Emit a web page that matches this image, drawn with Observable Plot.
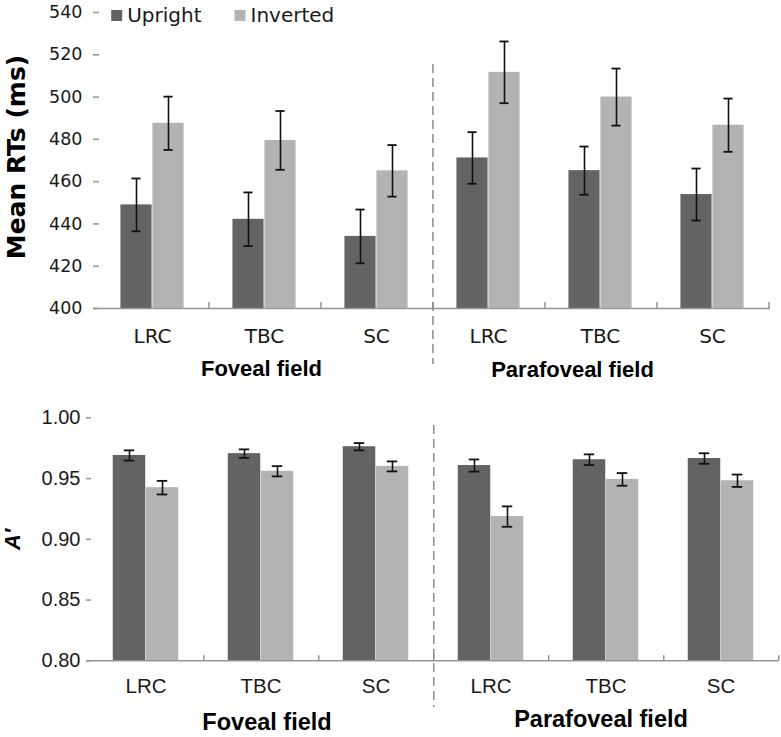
<!DOCTYPE html>
<html><head><meta charset="utf-8">
<script src="https://cdn.jsdelivr.net/npm/d3@7"></script>
<script src="https://cdn.jsdelivr.net/npm/@observablehq/plot@0.6"></script>
<style>
body{margin:0;background:#fff}
#chart{width:781px;height:737px;position:relative;background:#fff}
#chart svg{display:block}
.rtplot g[aria-label="x-axis tick label"]{font-size:20px}
.rtplot g[aria-label="y-axis tick label"]{font-size:17.5px}
.aplot g[aria-label="x-axis tick label"]{font-size:20.5px}
.aplot g[aria-label="y-axis tick label"]{font-size:20px}
</style>
</head><body><div id="chart"></div>
<script>
// ---- data ----
const groups = ["F-LRC","F-TBC","F-SC","P-LRC","P-TBC","P-SC"];
const conditions = ["LRC","TBC","SC","LRC","TBC","SC"];
const fieldLabels = ["Foveal field","Parafoveal field"];
const orientations = ["Upright","Inverted"];
const orientColors = ["#636363","#b3b3b3"];

const rtUpright    = [449.0, 442.2, 434.1, 471.2, 465.2, 453.9];
const rtUprightErr = [12.5, 12.7, 12.7, 12.2, 11.4, 12.3];
const rtInverted   = [487.6, 479.5, 465.1, 511.7, 500.0, 486.7];
const rtInvertedErr= [12.6, 13.9, 12.2, 14.6, 13.5, 12.6];
const rtTicks = [400,420,440,460,480,500,520,540];

const aUpright     = [0.9690, 0.9705, 0.9762, 0.9607, 0.9655, 0.9665];
const aUprightErr  = [0.0042, 0.0035, 0.0030, 0.0050, 0.0044, 0.0043];
const aInverted    = [0.9425, 0.9560, 0.9600, 0.9187, 0.9493, 0.9482];
const aInvertedErr = [0.0056, 0.0042, 0.0041, 0.0084, 0.0052, 0.0051];
const aTicks = [0.80,0.85,0.90,0.95,1.00];

const condOf = new Map(groups.map((g,i)=>[g, conditions[i]]));
function buildRows(up, upErr, inv, invErr){
  return groups.flatMap((g,i)=>[
    {group:g, orient:orientations[0], value:up[i], err:upErr[i]},
    {group:g, orient:orientations[1], value:inv[i], err:invErr[i]}
  ]);
}

const axisGray = "#959595";

function makeChart(c){
  const rows = buildRows(...c.series);
  const step = (c.width - c.ml - c.mr) / groups.length;
  const frameH = c.height - c.mt - c.mb;
  const up = rows.filter(d=>d.orient===orientations[0]);
  const inv = rows.filter(d=>d.orient===orientations[1]);
  const capInset = (step - c.capW)/2;
  const errMarks = (data, dx) => [
    Plot.ruleX(data, {x:"group", y1:d=>d.value-d.err, y2:d=>d.value+d.err, dx, stroke:"#111", strokeWidth:1.6}),
    Plot.tickY(data, {x:"group", y:d=>d.value+d.err, dx, insetLeft:capInset, insetRight:capInset, stroke:"#111", strokeWidth:1.8}),
    Plot.tickY(data, {x:"group", y:d=>d.value-d.err, dx, insetLeft:capInset, insetRight:capInset, stroke:"#111", strokeWidth:1.8})
  ];
  const marks = [
    Plot.barY(up, {x:"group", y1:c.yDomain[0], y2:"value", fill:"orient", insetLeft:step/2-c.bw, insetRight:step/2}),
    Plot.barY(inv, {x:"group", y1:c.yDomain[0], y2:"value", fill:"orient", insetLeft:step/2, insetRight:step/2-c.bw}),
    ...errMarks(up, -c.bw/2),
    ...errMarks(inv, c.bw/2),
    Plot.ruleY([c.yDomain[0]], {stroke:axisGray, strokeWidth:1.5}),
    Plot.ruleX(groups, {x:d=>d, dx:step/2, insetTop:frameH-c.tickLen, stroke:axisGray, strokeWidth:1.5}),
    Plot.ruleX([groups[2]], {x:d=>d, dx:step/2, insetTop:c.dashTop, insetBottom:c.dashBottom, stroke:"#8c8c8c", strokeWidth:1.5, strokeDasharray:"9,5"}),
    Plot.axisY({ticks:c.ticks, tickFormat:c.tickFormat, tickSize:-c.tickLen, tickPadding:c.yPad, line:true, label:null, stroke:axisGray, fill:"#1a1a1a", fontSize:c.tickFont, strokeWidth:1.5}),
    Plot.axisX({tickSize:0, tickPadding:c.xPad, tickFormat:g=>condOf.get(g), label:null, fill:"#1a1a1a", fontSize:c.catFont}),
    Plot.text([fieldLabels[0]], {x:()=>groups[1], frameAnchor:"bottom", lineAnchor:"top", dy:c.titleDy[0], dx:c.titleDx[0], text:d=>d, fontSize:c.titleFont, fontWeight:"bold", fontFamily:"Liberation Sans", fill:"#000"}),
    Plot.text([fieldLabels[1]], {x:()=>groups[4], frameAnchor:"bottom", lineAnchor:"top", dy:c.titleDy[1], dx:c.titleDx[1], text:d=>d, fontSize:c.titleFont, fontWeight:"bold", fontFamily:"Liberation Sans", fill:"#000"}),
    Plot.text([c.yLabel], {frameAnchor:"left", rotate:-90, dx:c.yLabelDx, dy:c.yLabelDy, textAnchor:"middle", lineAnchor:"middle", text:d=>d, fontSize:c.yLabelFont, fontWeight:"bold", fontStyle:c.yLabelStyle, fontFamily:c.yLabelFamily, fill:"#000"})
  ];
  if (c.legend) {
    orientations.forEach((o,i)=>{
      marks.push(Plot.dot([o], {fill:d=>d, symbol:"square", r:6.2, frameAnchor:"top-left", dx:c.legend.sq[i], dy:c.legend.dy}));
      marks.push(Plot.text([o], {text:d=>d, frameAnchor:"top-left", textAnchor:"start", lineAnchor:"middle", dx:c.legend.tx[i], dy:c.legend.dy, fontSize:20, fill:"#1a1a1a"}));
    });
  }
  return Plot.plot({
    width:c.width, height:c.height,
    marginLeft:c.ml, marginRight:c.mr, marginTop:c.mt, marginBottom:c.mb,
    className:c.cls,
    style:{fontFamily:c.font, fontSize:c.tickFont+"px", background:"#fff", overflow:"visible"},
    x:{type:"band", domain:groups, padding:0},
    y:{domain:c.yDomain},
    color:{domain:orientations, range:orientColors},
    marks
  });
}

const rtChart = makeChart({
  cls:"rtplot",
  series:[rtUpright, rtUprightErr, rtInverted, rtInvertedErr],
  width:781, height:390, ml:93, mr:11, mt:12, mb:82,
  yDomain:[rtTicks[0], rtTicks[rtTicks.length-1]], ticks:rtTicks, tickFormat:d=>String(d),
  bw:32, capW:10, tickLen:6, yPad:17, xPad:20,
  dashTop:52, dashBottom:-56,
  tickFont:17.5, catFont:20, titleFont:22, titleDy:[52,53], titleDx:[-3,-28],
  font:"DejaVu Sans",
  yLabel:"Mean RTs (ms)", yLabelDx:-77, yLabelDy:-3.5, yLabelFont:25, yLabelStyle:"normal", yLabelFamily:"DejaVu Sans",
  legend:{sq:[23.2,146.5], tx:[33.7,157], dy:3}
});
const aChart = makeChart({
  cls:"aplot",
  series:[aUpright, aUprightErr, aInverted, aInvertedErr],
  width:781, height:347, ml:86, mr:2, mt:27.3, mb:76.7,
  yDomain:[aTicks[0], aTicks[aTicks.length-1]], ticks:aTicks, tickFormat:d3.format(".2f"),
  bw:33, capW:11, tickLen:5, yPad:11, xPad:18,
  dashTop:7.7, dashBottom:-46.7,
  tickFont:20, catFont:20.5, titleFont:23.5, titleDy:[53,50], titleDx:[6,-5],
  font:"Liberation Sans",
  yLabel:"A\u2032", yLabelDx:-73.5, yLabelDy:0, yLabelFont:22, yLabelStyle:"italic", yLabelFamily:"Liberation Sans",
  legend:null
});
document.getElementById("chart").append(rtChart, aChart);
</script>
</body></html>
